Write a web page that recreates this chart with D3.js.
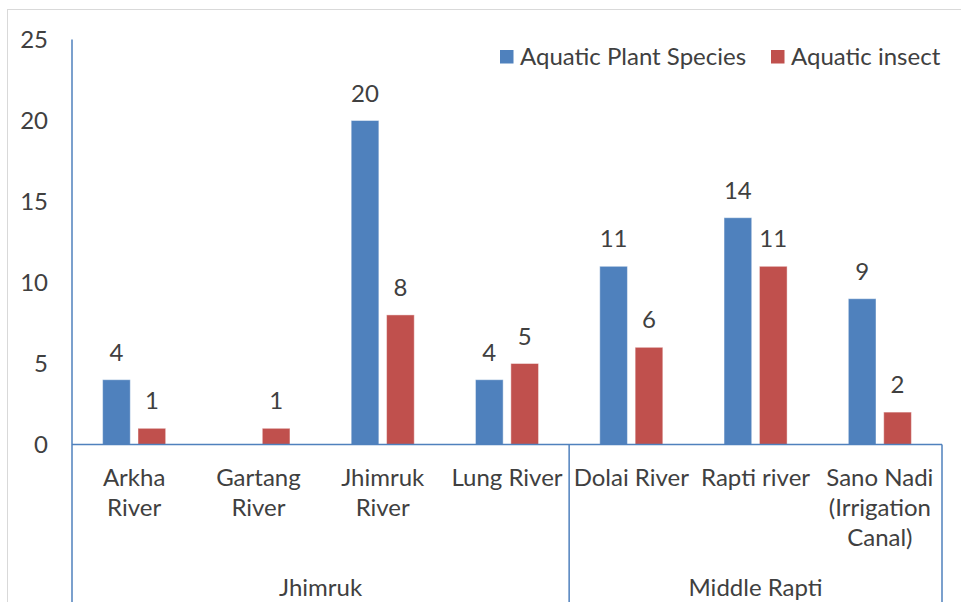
<!DOCTYPE html>
<html>
<head>
<meta charset="utf-8">
<script src="https://cdn.jsdelivr.net/npm/d3@7"></script>
<style>
  html, body { margin: 0; padding: 0; background: #fff; }
  svg { display: block; }
  text { font-family: Lato, "Open Sans", sans-serif; fill: #404040; }
</style>
</head>
<body>
<svg id="chart" width="961" height="602"></svg>
<script>
// Sites (category axis), wrapped lines separated by "\n"
const categories = [
  "Arkha\nRiver",
  "Gartang\nRiver",
  "Jhimruk\nRiver",
  "Lung River",
  "Dolai River",
  "Rapti river",
  "Sano Nadi\n(Irrigation\nCanal)"
];
// Regions spanning the sites above, in order
const groupNames = ["Jhimruk", "Middle Rapti"];
const groupSizes = [4, 3];

const seriesNames = ["Aquatic Plant Species", "Aquatic insect"];
const plantSpecies = [4, null, 20, 4, 11, 14, 9];
const aquaticInsect = [1, 1, 8, 5, 6, 11, 2];
const yTicks = [0, 5, 10, 15, 20, 25];

const colors = ["#4F81BD", "#C0504D"];
const axisColor = "#4F81BD";
const seriesValues = [plantSpecies, aquaticInsect];

const svg = d3.select("#chart");
const plot = { left: 72, right: 942, top: 39.5, bottom: 444.5 };

// chart-area frame
svg.append("rect")
  .attr("x", 7.5).attr("y", 9.5)
  .attr("width", 1000).attr("height", 1000)
  .attr("fill", "none").attr("stroke", "#d9d9d9").attr("stroke-width", 1);

const y = d3.scaleLinear().domain([0, 25]).range([plot.bottom, plot.top]);
const x0 = d3.scaleBand().domain(d3.range(categories.length))
  .range([plot.left, plot.right]).padding(0);
const x1 = d3.scaleBand().domain(d3.range(seriesNames.length))
  .range([0, x0.bandwidth()]).paddingInner(0.218).paddingOuter(0.865);

// y axis labels
const yAxis = d3.axisLeft(y).tickValues(yTicks).tickSize(0).tickPadding(24);
const gy = svg.append("g").attr("transform", `translate(${plot.left},0)`).call(yAxis);
gy.select(".domain").remove();
gy.selectAll("text").style("font-size", "24px").attr("font-family", null)
  .attr("fill", null).attr("dy", "0.35em");

// bars
const rows = [];
seriesValues.forEach((vals, s) => vals.forEach((v, i) => {
  if (v !== null) rows.push({ s, i, v });
}));

svg.append("g").selectAll("rect").data(rows).join("rect")
  .attr("x", d => x0(d.i) + x1(d.s))
  .attr("y", d => y(d.v))
  .attr("width", x1.bandwidth())
  .attr("height", d => y(0) - y(d.v))
  .attr("fill", d => colors[d.s])
  .attr("stroke", "rgba(255,255,255,0.45)")
  .attr("stroke-width", 1);

// value labels
svg.append("g").selectAll("text").data(rows).join("text")
  .attr("x", d => x0(d.i) + x1(d.s) + x1.bandwidth() / 2)
  .attr("y", d => y(d.v) - 19)
  .attr("text-anchor", "middle")
  .style("font-size", "24px")
  .text(d => d.v);

// axis lines
const axes = svg.append("g").attr("stroke", axisColor).attr("stroke-width", 1.5);
axes.append("line").attr("x1", plot.left).attr("x2", plot.left)
  .attr("y1", plot.top).attr("y2", 602);
axes.append("line").attr("x1", plot.left).attr("x2", plot.right)
  .attr("y1", y(0)).attr("y2", y(0));

// group separators and group labels
let start = 0;
groupNames.forEach((name, g) => {
  const end = start + groupSizes[g];
  const gx0 = x0(start);
  const gx1 = x0(end - 1) + x0.bandwidth();
  axes.append("line").attr("x1", gx1).attr("x2", gx1)
    .attr("y1", y(0)).attr("y2", 602);
  svg.append("text")
    .attr("x", (gx0 + gx1) / 2).attr("y", 588)
    .attr("dy", "0.35em").attr("text-anchor", "middle")
    .style("font-size", "24px")
    .text(name);
  start = end;
});

// category labels
const catG = svg.append("g").selectAll("text").data(categories).join("text")
  .attr("text-anchor", "middle")
  .style("font-size", "24px");
catG.each(function (label, i) {
  const t = d3.select(this);
  label.split("\n").forEach((line, k) => {
    t.append("tspan")
      .attr("x", x0(i) + x0.bandwidth() / 2)
      .attr("y", 478 + k * 30)
      .attr("dy", "0.35em")
      .text(line);
  });
});

// legend
const legendX = [500, 771];
const legend = svg.append("g").selectAll("g").data(seriesNames).join("g")
  .attr("transform", (d, i) => `translate(${legendX[i]},50)`);
legend.append("rect").attr("width", 13.5).attr("height", 13.5)
  .attr("fill", (d, i) => colors[i]);
legend.append("text").attr("x", 20).attr("y", 7).attr("dy", "0.35em")
  .style("font-size", "24px").text(d => d);
</script>
</body>
</html>
